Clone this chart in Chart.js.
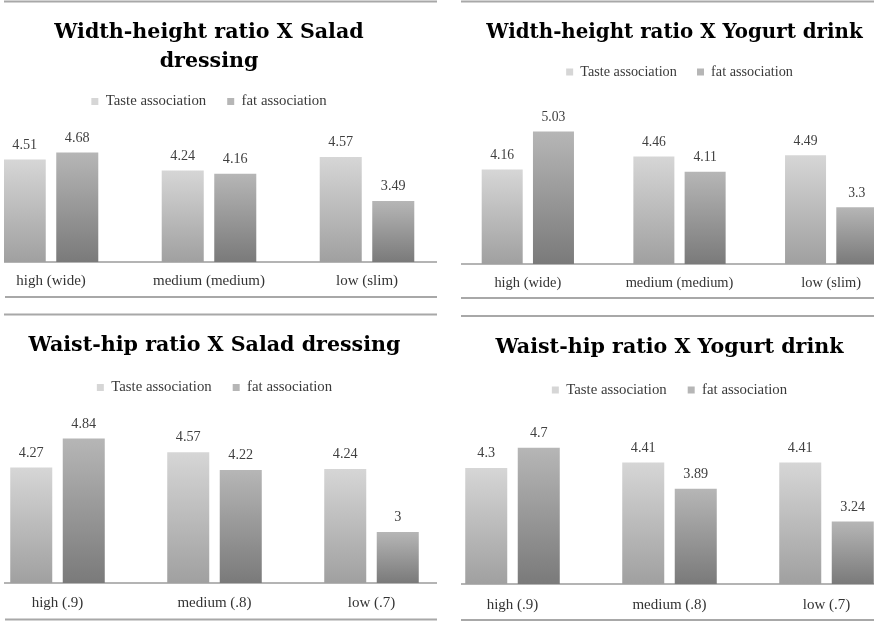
<!DOCTYPE html>
<html><head><meta charset="utf-8">
<script src="https://cdn.jsdelivr.net/npm/chart.js@4.4.1/dist/chart.umd.min.js"></script>
<style>
html,body{margin:0;padding:0;background:#fff;width:874px;height:621px;overflow:hidden;position:relative}
.clip{position:absolute;overflow:hidden;background:#fff}
.clip canvas{position:absolute}
</style></head><body>
<div class="clip" id="p1"><canvas></canvas></div>
<div class="clip" id="p2"><canvas></canvas></div>
<div class="clip" id="p3"><canvas></canvas></div>
<div class="clip" id="p4"><canvas></canvas></div>
<script>
// ---------- data ----------
const seriesNames = ['Taste association', 'fat association'];
const widthHeightCategories = ['high (wide)', 'medium (medium)', 'low (slim)'];
const waistHipCategories = ['high (.9)', 'medium (.8)', 'low (.7)'];

const saladWidthTaste = [4.51, 4.24, 4.57];
const saladWidthFat   = [4.68, 4.16, 3.49];
const yogurtWidthTaste = [4.16, 4.46, 4.49];
const yogurtWidthFat   = [5.03, 4.11, 3.3];
const saladWaistTaste = [4.27, 4.57, 4.24];
const saladWaistFat   = [4.84, 4.22, 3];
const yogurtWaistTaste = [4.3, 4.41, 4.41];
const yogurtWaistFat   = [4.7, 3.89, 3.24];

const titleSaladWidth = ['Width-height ratio X Salad', 'dressing'];
const titleYogurtWidth = 'Width-height ratio X Yogurt drink';
const titleSaladWaist = 'Waist-hip ratio X Salad dressing';
const titleYogurtWaist = 'Waist-hip ratio X Yogurt drink';
const axisMin = 2;

// ---------- style ----------
const TITLE_FAMILY = '"DejaVu Serif"';
const TITLE_SIZE = 20.6;
const TITLE_LH = 1.42;
const SMALL_FAMILY = '"Liberation Serif"';
const SMALL_SIZE = 15;
const LEGEND_SIZE = 14.8;
const VALUE_SIZE = 14.2;
const LINE_COLOR = '#a8a8a8';

function gradient(top, bottom, solid) {
  return (c) => {
    const chart = c.chart;
    const ys = chart.scales && chart.scales.y;
    if (c.type !== 'data' || !ys || !chart.chartArea) return solid;
    const yTop = ys.getPixelForValue(c.raw);
    const yBot = ys.getPixelForValue(ys.min);
    if (!isFinite(yTop) || !isFinite(yBot) || Math.abs(yBot - yTop) < 1) return solid;
    const g = chart.ctx.createLinearGradient(0, yTop, 0, yBot);
    g.addColorStop(0, top);
    g.addColorStop(1, bottom);
    return g;
  };
}

const valueLabels = {
  id: 'valueLabels',
  afterDatasetsDraw(chart, args, opts) {
    const ctx = chart.ctx;
    ctx.save();
    ctx.font = (VALUE_SIZE * opts.s) + 'px ' + SMALL_FAMILY;
    ctx.fillStyle = '#404040';
    ctx.textAlign = 'center';
    ctx.textBaseline = 'middle';
    chart.data.datasets.forEach((ds, i) => {
      chart.getDatasetMeta(i).data.forEach((el, j) => {
        ctx.fillText(String(ds.data[j]), el.x, el.y - 14.5 * opts.s);
      });
    });
    ctx.restore();
  }
};

const frameLines = {
  id: 'frameLines',
  afterDraw(chart, args, opts) {
    const ctx = chart.ctx;
    ctx.save();
    ctx.strokeStyle = LINE_COLOR;
    ctx.lineWidth = 2;
    (opts.lines || []).forEach(l => {
      ctx.beginPath();
      ctx.moveTo(l.x1 - opts.ox, l.y - opts.oy);
      ctx.lineTo(l.x2 - opts.ox, l.y - opts.oy);
      ctx.stroke();
    });
    ctx.restore();
  }
};

const panels = [
  {id: 'p1', labels: widthHeightCategories, taste: saladWidthTaste, fat: saladWidthFat, title: titleSaladWidth,
   clip: {x: 4, y: 0, w: 433, h: 305}, chartL: -28, chartR: 446, spacer: 0, top: 0, height: 305, s: 1,
   titleY: 32.5, legendY: 101.5, baseline: 262, k: 43.7, labelY: 281, catPct: 0.665,
   lines: [{y: 1.5, x1: 0, x2: 437}, {y: 297, x1: 5, x2: 437}]},
  {id: 'p2', labels: widthHeightCategories, taste: yogurtWidthTaste, fat: yogurtWidthFat, title: titleYogurtWidth,
   clip: {x: 461, y: 0, w: 413, h: 305}, chartL: 452, chartR: 907, spacer: 10, top: 0, height: 305, s: 0.962,
   titleY: 32.5, legendY: 72, baseline: 264, k: 46.2, labelY: 283, catPct: 0.676,
   lines: [{y: 1.5, x1: 461, x2: 874}, {y: 298, x1: 461, x2: 874}]},
  {id: 'p3', labels: waistHipCategories, taste: saladWaistTaste, fat: saladWaistFat, title: titleSaladWaist,
   clip: {x: 4, y: 305, w: 433, h: 316}, chartL: -21, chartR: 450, spacer: 0, top: 305, height: 316, s: 1,
   titleY: 346, legendY: 387.5, baseline: 583, k: 55.2, labelY: 603, catPct: 0.669,
   lines: [{y: 314.5, x1: 0, x2: 437}, {y: 619.5, x1: 5, x2: 437}]},
  {id: 'p4', labels: waistHipCategories, taste: yogurtWaistTaste, fat: yogurtWaistFat, title: titleYogurtWaist,
   clip: {x: 461, y: 305, w: 413, h: 316}, chartL: 434, chartR: 905, spacer: 0, top: 305, height: 316, s: 1,
   titleY: 348, legendY: 390, baseline: 584, k: 54.8, labelY: 605, catPct: 0.669,
   lines: [{y: 316, x1: 461, x2: 874}, {y: 620, x1: 461, x2: 874}]}
];

function makePanel(p) {
  const box = document.getElementById(p.id);
  Object.assign(box.style, {left: p.clip.x + 'px', top: p.clip.y + 'px', width: p.clip.w + 'px', height: p.clip.h + 'px'});
  const canvas = box.querySelector('canvas');
  const cLeft = p.chartL - p.spacer;
  const cW = p.chartR - cLeft;
  canvas.width = cW; canvas.height = p.height;
  Object.assign(canvas.style, {left: (cLeft - p.clip.x) + 'px', top: (p.top - p.clip.y) + 'px', width: cW + 'px', height: p.height + 'px'});

  const titleFont = {family: TITLE_FAMILY, weight: 'bold', size: TITLE_SIZE * p.s, lineHeight: TITLE_LH};
  const smallSize = SMALL_SIZE * p.s;
  const legendSize = LEGEND_SIZE * p.s;
  const lines = Array.isArray(p.title) ? p.title.length : 1;
  const LH = titleFont.size * TITLE_LH;
  const padTop = p.titleY - p.top - LH / 2;
  const legendPad = 21 * p.s;
  const padBot = (p.legendY - p.top) - legendPad - legendSize / 2 - padTop - lines * LH;
  const tickLH = smallSize * 1.2;
  const tickPad = p.labelY - p.baseline - tickLH / 2;
  const state = {padB: 0, max: 5};

  const chart = new Chart(canvas, {
    type: 'bar',
    data: {
      labels: p.labels,
      datasets: [
        {label: seriesNames[0], data: p.taste, backgroundColor: gradient('#d6d6d6', '#a0a0a0', '#c2c2c2'), borderWidth: 0},
        {label: seriesNames[1], data: p.fat, backgroundColor: gradient('#b6b6b6', '#7a7a7a', '#9a9a9a'), borderWidth: 0}
      ]
    },
    options: {
      responsive: false, animation: false, devicePixelRatio: 1,
      layout: {padding: () => ({left: 0, right: 0, top: 0, bottom: state.padB})},
      datasets: {bar: {categoryPercentage: p.catPct, barPercentage: 0.8}},
      scales: {
        x: {
          grid: {display: false, drawTicks: false},
          border: {display: true, color: '#b4b4b4', width: 2},
          ticks: {padding: tickPad, color: '#333', font: {family: SMALL_FAMILY, size: smallSize, lineHeight: 1.2}}
        },
        y: {
          display: p.spacer > 0, min: axisMin,
          grid: {display: false, drawTicks: false}, border: {display: false}, ticks: {display: false},
          afterDataLimits: (s) => { s.min = axisMin; s.max = state.max; },
          afterFit: (s) => { s.width = p.spacer; }
        }
      },
      plugins: {
        title: {display: true, text: p.title, color: '#000', font: titleFont, padding: {top: padTop, bottom: padBot}},
        legend: {fullSize: false, labels: {boxWidth: 7, boxHeight: 7, padding: legendPad, color: '#3a3a3a',
          font: {family: SMALL_FAMILY, size: legendSize}}},
        tooltip: {enabled: false},
        valueLabels: {s: p.s},
        frameLines: {lines: p.lines, ox: cLeft, oy: p.top}
      }
    },
    plugins: [valueLabels, frameLines]
  });

  for (let i = 0; i < 3; i++) {
    const ca = chart.chartArea;
    state.padB += (p.top + ca.bottom) - p.baseline;
    chart.update('none');
    const ca2 = chart.chartArea;
    state.max = axisMin + (ca2.bottom - ca2.top) / p.k;
    chart.update('none');
  }
}
panels.forEach(makePanel);
</script>
</body></html>
